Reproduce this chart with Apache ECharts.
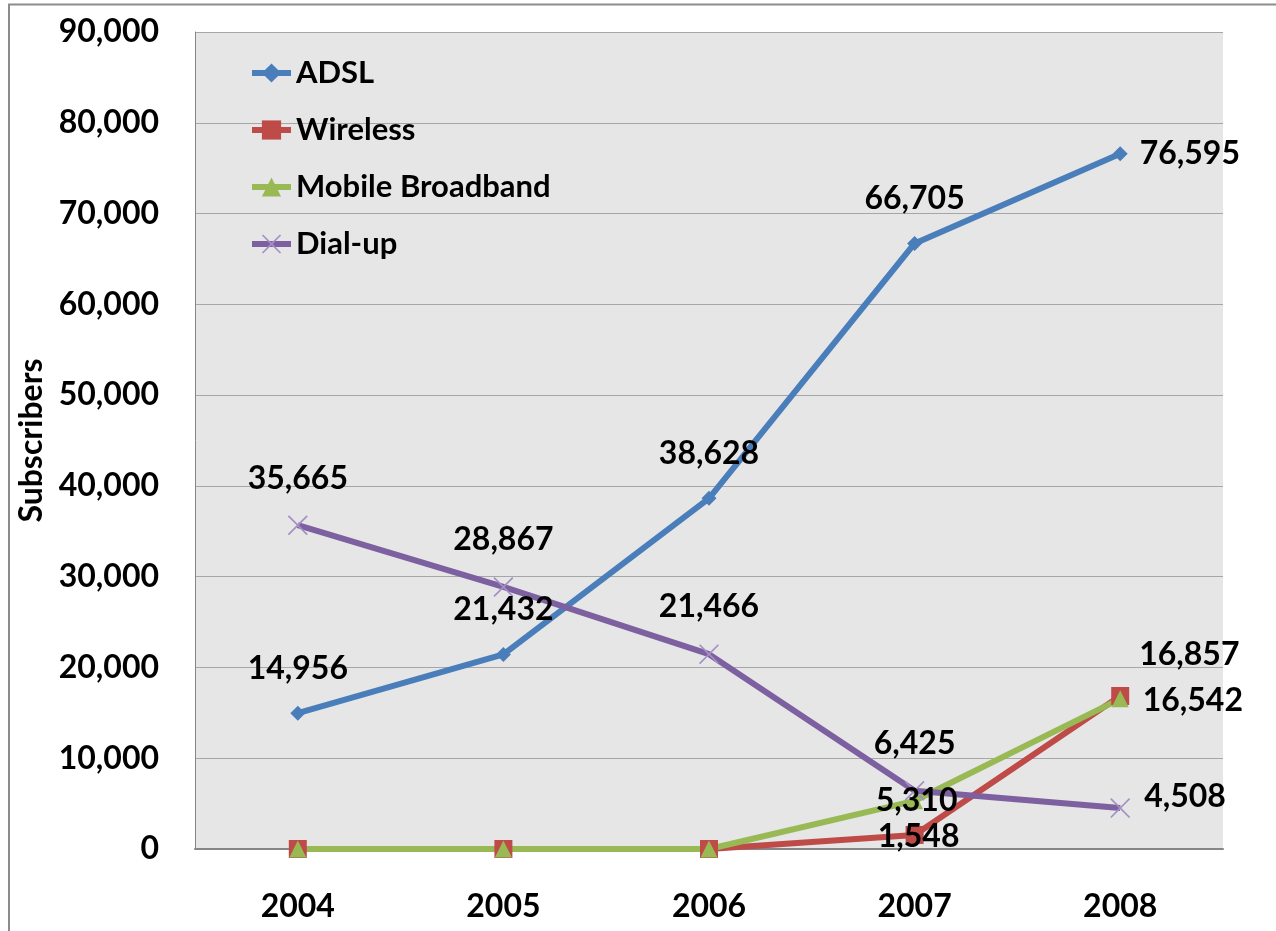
<!DOCTYPE html>
<html>
<head>
<meta charset="utf-8">
<script src="https://cdn.jsdelivr.net/npm/echarts@6/dist/echarts.min.js"></script>
<style>
  html, body { margin: 0; padding: 0; background: #fff; }
  #chart { width: 1276px; height: 931px; }
</style>
</head>
<body>
<div id="chart"></div>
<script>
// data
var years = ['2004', '2005', '2006', '2007', '2008'];
var adsl = [14956, 21432, 38628, 66705, 76595];
var wireless = [0, 0, 0, 1548, 16857];
var mobile = [0, 0, 0, 5310, 16542];
var dialup = [35665, 28867, 21466, 6425, 4508];
var yTicks = [0, 10000, 20000, 30000, 40000, 50000, 60000, 70000, 80000, 90000];

var FONT = 'Lato, "Open Sans", sans-serif';

// where each value label sits (null = no label)
var adslLab = [['top'], ['top'], ['top'], ['top'], ['right', 12, 0, 0]];
var wirelessLab = [null, null, null, ['inside', 0, 4, 2], ['right', 10, 0, -41]];
var mobileLab = [null, null, null, ['inside', 0, 2, 0], ['right', 14, 0, 2]];
var dialLab = [['top'], ['top'], ['top'], ['top'], ['right', 14, 0, -11]];

function fmt(v) {
  return v.toLocaleString('en-US');
}

function build(vals, labs) {
  return vals.map(function (v, i) {
    var l = labs[i];
    if (!l) return { value: v, label: { show: false } };
    var lab = { show: true, position: l[0] };
    if (l[0] === 'top') lab.distance = 18;
    else lab.distance = l[1];
    if (l.length > 2) lab.offset = [l[2], l[3]];
    return { value: v, label: lab };
  });
}

var labelStyle = {
  show: true,
  color: '#000',
  fontFamily: FONT,
  fontWeight: 'bold',
  fontSize: 32,
  lineHeight: 38,
  formatter: function (p) { return fmt(p.value); }
};

var xPath = 'path://M0,0.6L0.6,0L5,4.4L9.4,0L10,0.6L5.6,5L10,9.4L9.4,10L5,5.6L0.6,10L0,9.4L4.4,5Z';

var chart = echarts.init(document.getElementById('chart'));
var option = {
  backgroundColor: '#fff',
  animation: false,
  graphic: [{
    type: 'rect',
    shape: { x: 9, y: 4.5, width: 1400, height: 1000 },
    style: { fill: 'none', stroke: '#8c8c8c', lineWidth: 2 },
    silent: true
  }],
  grid: {
    left: 195, right: 53, top: 32, bottom: 82,
    outerBoundsMode: 'none',
    show: true, backgroundColor: '#e6e6e6', borderWidth: 0
  },
  legend: {
    orient: 'vertical',
    left: 249, top: 56,
    padding: 0,
    itemWidth: 39, itemHeight: 24,
    itemGap: 23,
    lineStyle: { width: 6 },
    textStyle: { fontFamily: FONT, fontWeight: 'bold', fontSize: 31, color: '#000', lineHeight: 34 },
    data: ['ADSL', 'Wireless', 'Mobile Broadband', 'Dial-up']
  },
  xAxis: {
    type: 'category',
    data: years,
    boundaryGap: true,
    axisLine: { lineStyle: { color: '#868686', width: 2 } },
    axisTick: { show: false },
    axisLabel: { margin: 42, color: '#000', fontFamily: FONT, fontWeight: 'bold', fontSize: 32 }
  },
  yAxis: {
    type: 'value',
    min: yTicks[0], max: yTicks[yTicks.length - 1], interval: 10000,
    name: 'Subscribers',
    nameLocation: 'middle',
    nameRotate: 90,
    nameGap: 137,
    nameTextStyle: { color: '#000', fontFamily: FONT, fontWeight: 'bold', fontSize: 32 },
    axisLine: { show: true, lineStyle: { color: '#868686', width: 1 } },
    axisTick: { show: false },
    splitLine: { lineStyle: { color: '#a6a6a6', width: 1 } },
    axisLabel: {
      margin: 36, color: '#000', fontFamily: FONT, fontWeight: 'bold', fontSize: 32,
      formatter: function (v) { return fmt(v); }
    }
  },
  series: [
    {
      name: 'ADSL', type: 'line', data: build(adsl, adslLab),
      symbol: 'diamond', symbolSize: 15,
      lineStyle: { color: '#4a7ebb', width: 6 },
      itemStyle: { color: '#4a7ebb' },
      label: labelStyle
    },
    {
      name: 'Wireless', type: 'line', data: build(wireless, wirelessLab),
      symbol: 'rect', symbolSize: 18,
      lineStyle: { color: '#be4b48', width: 6 },
      itemStyle: { color: '#be4b48' },
      label: labelStyle
    },
    {
      name: 'Mobile Broadband', type: 'line', data: build(mobile, mobileLab),
      symbol: 'triangle', symbolSize: 17,
      lineStyle: { color: '#98b954', width: 6 },
      itemStyle: { color: '#98b954' },
      label: labelStyle
    },
    {
      name: 'Dial-up', type: 'line', data: build(dialup, dialLab),
      symbol: xPath, symbolSize: 20,
      lineStyle: { color: '#7d60a0', width: 6 },
      itemStyle: { color: '#a58fc4' },
      label: labelStyle
    }
  ]
};
chart.setOption(option);
window.addEventListener('resize', function () { chart.resize(); });
</script>
</body>
</html>
